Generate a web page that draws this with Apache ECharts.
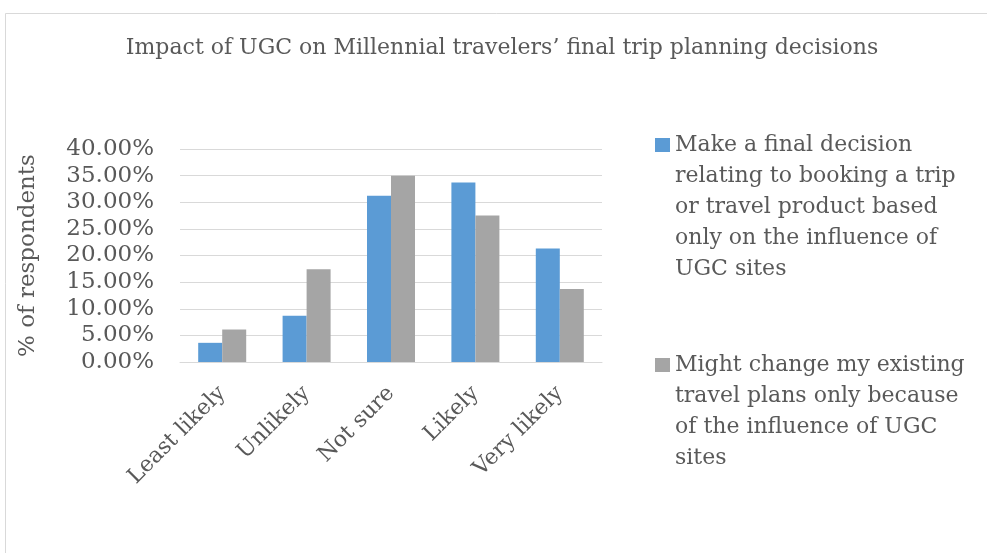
<!DOCTYPE html>
<html>
<head>
<meta charset="utf-8">
<script src="https://cdn.jsdelivr.net/npm/echarts@6/dist/echarts.min.js"></script>
<style>html,body{margin:0;padding:0;background:#fff}#c{width:987px;height:553px}</style>
</head>
<body>
<div id="c"></div>
<script>
const categories = ['Least likely', 'Unlikely', 'Not sure', 'Likely', 'Very likely'];
const seriesNames = [
  'Make a final decision relating to booking a trip or travel product based only on the influence of UGC sites',
  'Might change my existing travel plans only because of the influence of UGC sites'
];
const legendLines = [
  ['Make a final decision', 'relating to booking a trip', 'or travel product based', 'only on the influence of', 'UGC sites'],
  ['Might change my existing', 'travel plans only because', 'of the influence of UGC', 'sites']
];
const finalDecision = [3.6, 8.7, 31.2, 33.7, 21.3];
const mightChange = [6.1, 17.4, 35.0, 27.5, 13.7];
const yTicks = { min: 0, max: 40, interval: 5 };

const FONT = 'DejaVu Serif';
const TXT = '#595959';
const chart = echarts.init(document.getElementById('c'), null, { renderer: 'canvas' });
const LH = 31;
function legendText(lines) {
  // pad with empty lines on top so the icon sits beside the first line
  return new Array(lines.length - 1).fill(' ').join('\n') + '\n' + lines.join('\n');
}
chart.setOption({
  animation: false,
  backgroundColor: '#fff',
  graphic: [{
    type: 'rect', left: 3, top: 11, shape: { width: 1000, height: 600 },
    style: { fill: 'none', stroke: '#d9d9d9', lineWidth: 1 }, silent: true, z: -1
  }],
  title: {
    text: 'Impact of UGC on Millennial travelers’ final trip planning decisions',
    left: 497, textAlign: 'center', top: 32,
    textStyle: { fontFamily: FONT, fontSize: 22, fontWeight: 'normal', color: TXT }
  },
  grid: { left: 180, right: 385, top: 149, bottom: 191, containLabel: false },
  legend: {
    orient: 'vertical', left: 655, top: 5.5, padding: 0,
    itemWidth: 15, itemHeight: 14, itemGap: -28,
    icon: 'rect', selectedMode: false,
    textStyle: { fontFamily: FONT, fontSize: 22, color: TXT, lineHeight: LH },
    data: seriesNames,
    formatter: function (n) { return legendText(legendLines[seriesNames.indexOf(n)]); }
  },
  xAxis: {
    type: 'category', data: categories,
    axisLine: { lineStyle: { color: '#d9d9d9', width: 1 } },
    axisTick: { show: false },
    axisLabel: { rotate: 45, margin: 28, fontFamily: FONT, fontSize: 22, color: TXT, interval: 0 }
  },
  yAxis: {
    type: 'value', min: yTicks.min, max: yTicks.max, interval: yTicks.interval,
    name: '% of respondents', nameLocation: 'middle', nameGap: 140, nameRotate: 90,
    nameTextStyle: { fontFamily: FONT, fontSize: 23, color: TXT },
    axisLine: { show: false }, axisTick: { show: false },
    splitLine: { lineStyle: { color: '#d9d9d9', width: 1 } },
    axisLabel: { margin: 26, fontFamily: FONT, fontSize: 23, color: TXT,
      formatter: function (v) { return v.toFixed(2) + '%'; } }
  },
  series: [
    { name: seriesNames[0], type: 'bar', data: finalDecision, barWidth: 24, barGap: '0%',
      itemStyle: { color: '#5B9BD5' } },
    { name: seriesNames[1], type: 'bar', data: mightChange, barWidth: 24, barGap: '0%',
      itemStyle: { color: '#A5A5A5' } }
  ]
});
</script>
</body>
</html>
